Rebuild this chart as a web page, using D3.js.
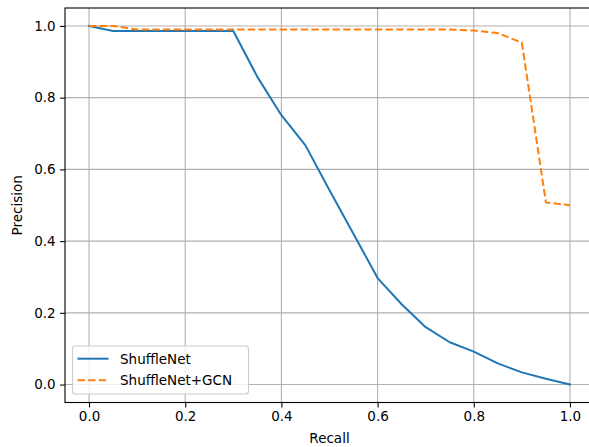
<!DOCTYPE html>
<html>
<head>
<meta charset="utf-8">
<script src="https://cdn.jsdelivr.net/npm/d3@7"></script>
<style>
  body { margin: 0; background: #fff; }
  svg { display: block; font-family: "DejaVu Sans", sans-serif; }
</style>
</head>
<body>
<svg id="chart" width="589" height="447"></svg>
<script>
// PR curve data
const recall = [0, 0.05, 0.1, 0.15, 0.2, 0.25, 0.3, 0.35, 0.4, 0.45, 0.5,
                0.55, 0.6, 0.65, 0.7, 0.75, 0.8, 0.85, 0.9, 0.95, 1.0];
const precShuffle = [1.0, 0.986, 0.986, 0.986, 0.986, 0.986, 0.986, 0.858, 0.751, 0.667, 0.542,
                     0.42, 0.297, 0.224, 0.16, 0.118, 0.092, 0.059, 0.034, 0.016, 0.0];
const precGCN = [1.0, 1.0, 0.99, 0.99, 0.99, 0.99, 0.99, 0.99, 0.99, 0.99, 0.99,
                 0.99, 0.99, 0.99, 0.99, 0.99, 0.987, 0.98, 0.953, 0.508, 0.5];
const seriesNames = ["ShuffleNet", "ShuffleNet+GCN"];
const xTicks = [0, 0.2, 0.4, 0.6, 0.8, 1.0];
const yTicks = [0, 0.2, 0.4, 0.6, 0.8, 1.0];

const svg = d3.select("#chart");
const m = {left: 65, top: 8, right: 594, bottom: 402.5};

const x = d3.scaleLinear().domain([-0.05, 1.05]).range([m.left, m.right]);
const y = d3.scaleLinear().domain([-0.05, 1.05]).range([m.bottom, m.top]);

// grid
const grid = svg.append("g");
grid.selectAll(".gx").data(xTicks).enter().append("line")
  .attr("x1", d => x(d)).attr("x2", d => x(d))
  .attr("y1", m.top).attr("y2", m.bottom)
  .attr("stroke", "#b0b0b0").attr("stroke-width", 1.1);
grid.selectAll(".gy").data(yTicks).enter().append("line")
  .attr("x1", m.left).attr("x2", m.right)
  .attr("y1", d => y(d)).attr("y2", d => y(d))
  .attr("stroke", "#b0b0b0").attr("stroke-width", 1.1);

// lines
const line = vals => d3.line()
  .x((d, i) => x(recall[i]))
  .y(d => y(d))(vals);

svg.append("path").attr("d", line(precShuffle))
  .attr("fill", "none").attr("stroke", "#1f77b4").attr("stroke-width", 2)
  .attr("stroke-linejoin", "round").attr("stroke-linecap", "square");
svg.append("path").attr("d", line(precGCN))
  .attr("fill", "none").attr("stroke", "#ff7f0e").attr("stroke-width", 2)
  .attr("stroke-dasharray", "7.4,3.2");

// axes
const fmt = d3.format(".1f");
const xAxis = svg.append("g").attr("transform", `translate(0,${m.bottom})`)
  .call(d3.axisBottom(x).tickValues(xTicks).tickFormat(fmt).tickSize(4.9).tickPadding(4.5));
const yAxis = svg.append("g").attr("transform", `translate(${m.left},0)`)
  .call(d3.axisLeft(y).tickValues(yTicks).tickFormat(fmt).tickSize(4.9).tickPadding(4.5));
[xAxis, yAxis].forEach(a => {
  a.selectAll("text").attr("font-size", "13.5px").attr("fill", "#000")
    .attr("font-family", "DejaVu Sans, sans-serif");
  a.selectAll("line").attr("stroke", "#000").attr("stroke-width", 1.1);
  a.select(".domain").remove();
});

// spines
svg.append("rect")
  .attr("x", m.left).attr("y", m.top)
  .attr("width", m.right - m.left).attr("height", m.bottom - m.top)
  .attr("fill", "none").attr("stroke", "#000").attr("stroke-width", 1.1);

// axis labels
svg.append("text").attr("x", (m.left + m.right) / 2).attr("y", 443)
  .attr("text-anchor", "middle").attr("font-size", "13.5px").text("Recall");
svg.append("text")
  .attr("transform", `translate(22,${(m.top + m.bottom) / 2}) rotate(-90)`)
  .attr("text-anchor", "middle").attr("font-size", "13.5px").text("Precision");

// legend
const lg = svg.append("g").attr("transform", "translate(72.5,346)");
lg.append("rect").attr("width", 176).attr("height", 48).attr("rx", 3)
  .attr("fill", "#fff").attr("fill-opacity", 0.8)
  .attr("stroke", "#cccccc").attr("stroke-width", 1.1);
seriesNames.forEach((name, i) => {
  const yy = 12.7 + i * 21.6;
  lg.append("line").attr("x1", 5).attr("x2", 36).attr("y1", yy).attr("y2", yy)
    .attr("stroke", i === 0 ? "#1f77b4" : "#ff7f0e").attr("stroke-width", 2)
    .attr("stroke-dasharray", i === 0 ? null : "7.4,3.2");
  lg.append("text").attr("x", 47.5).attr("y", yy + 4.8)
    .attr("font-size", "13.5px").text(name);
});
</script>
</body>
</html>
